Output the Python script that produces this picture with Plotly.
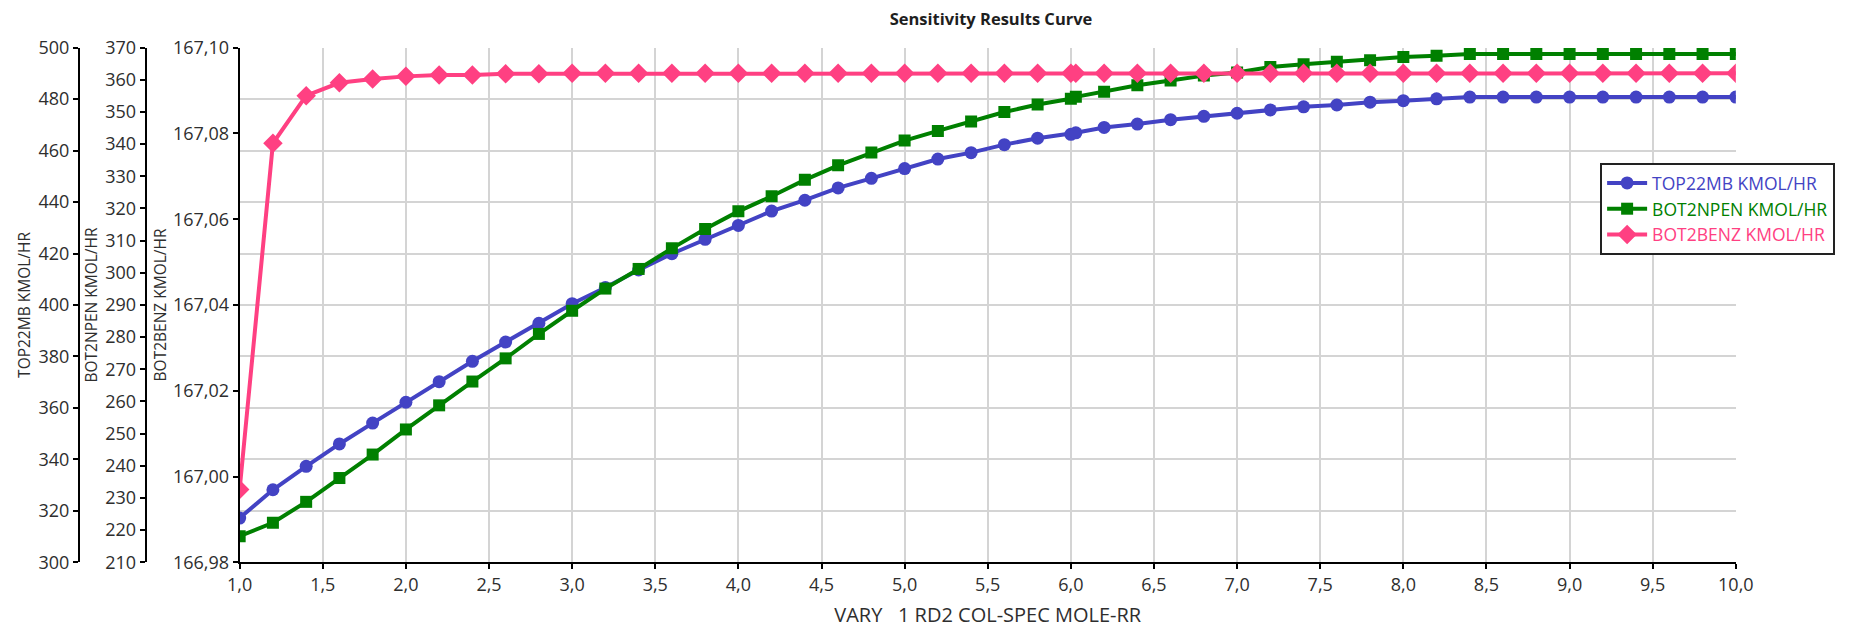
import plotly.graph_objects as go

x_rr = [1.0, 1.2, 1.4, 1.6, 1.8, 2.0, 2.2, 2.4, 2.6, 2.8, 3.0, 3.2, 3.4, 3.6, 3.8,
        4.0, 4.2, 4.4, 4.6, 4.8, 5.0, 5.2, 5.4, 5.6, 5.8, 6.0, 6.03, 6.2, 6.4, 6.6,
        6.8, 7.0, 7.2, 7.4, 7.6, 7.8, 8.0, 8.2, 8.4, 8.6, 8.8, 9.0, 9.2, 9.4, 9.6,
        9.8, 10.0]

top22mb = [317.2, 328.2, 337.3, 346.0, 354.1, 362.2, 370.2, 378.1, 385.6, 392.9,
           400.5, 406.8, 413.6, 419.9, 425.5, 430.9, 436.5, 440.7, 445.5, 449.2,
           453.0, 456.7, 459.2, 462.3, 464.8, 466.3, 466.9, 469.0, 470.3, 472.0,
           473.3, 474.5, 475.8, 477.0, 477.7, 478.8, 479.4, 480.1, 480.8, 480.8,
           480.8, 480.8, 480.8, 480.8, 480.8, 480.8, 480.8]

bot2npen = [218.1, 222.3, 228.8, 236.2, 243.5, 251.3, 258.8, 266.2, 273.4, 281.0,
            288.2, 295.1, 301.2, 307.6, 313.6, 319.1, 323.8, 328.9, 333.4, 337.4,
            341.1, 344.1, 347.0, 350.0, 352.3, 354.1, 354.7, 356.3, 358.3, 359.8,
            361.3, 362.3, 364.0, 364.8, 365.6, 366.1, 367.1, 367.5, 368.0, 368.0,
            368.0, 368.0, 368.0, 368.0, 368.0, 368.0, 368.0]

bot2benz = [166.9970, 167.0777, 167.0888, 167.0918, 167.0927, 167.0933, 167.0936,
            167.0936, 167.0939, 167.0939, 167.0940, 167.0940, 167.0940, 167.0940,
            167.0940, 167.0940, 167.0940, 167.0940, 167.0940, 167.0940, 167.0940,
            167.0940, 167.0940, 167.0940, 167.0940, 167.0940, 167.0940, 167.0940,
            167.0940, 167.0940, 167.0940, 167.0940, 167.0940, 167.0940, 167.0940,
            167.0940, 167.0940, 167.0940, 167.0940, 167.0940, 167.0940, 167.0940,
            167.0940, 167.0940, 167.0940, 167.0940, 167.0940]

names = ["TOP22MB KMOL/HR", "BOT2NPEN KMOL/HR", "BOT2BENZ KMOL/HR"]
colors = ["#4343C4", "#008000", "#FF4082"]
symbols = ["circle", "square", "diamond"]
msizes = [13, 12, 15]

W, H = 1861, 632
FONT = "Open Sans"
TXT = "#2E2E2E"

fig = go.Figure()
series = [top22mb, bot2npen, bot2benz]
yrefs = ["y", "y2", "y3"]
for i in range(3):
    fig.add_trace(go.Scatter(
        x=x_rr, y=series[i], yaxis=yrefs[i], mode="lines+markers",
        name='<span style="color:%s">%s</span>' % (colors[i], names[i]),
        line=dict(color=colors[i], width=4),
        marker=dict(symbol=symbols[i], size=msizes[i], color=colors[i]),
    ))

x0, x1 = 230.5 / W, 1752 / W
y0, y1 = 1 - 571 / H, 1 - 36 / H

axis_common = dict(
    showline=True, linecolor="black", linewidth=2,
    ticks="outside", ticklen=5, tickwidth=1.5, tickcolor="black",
    tickfont=dict(family=FONT, size=18, color=TXT),
    zeroline=False,
)
ytitle_font = dict(family=FONT, size=15.5, color=TXT)

fig.update_layout(
    width=W, height=H,
    margin=dict(l=0, r=0, t=0, b=0),
    paper_bgcolor="white", plot_bgcolor="white",
    separators=", ",
    font=dict(family=FONT, color=TXT),
    title=dict(text="<b>Sensitivity Results Curve</b>", x=991 / W, xanchor="center",
               y=1 - 19 / H, yanchor="middle",
               font=dict(family=FONT, size=16.5, color="#1E1E1E")),
    xaxis=dict(
        domain=[x0, x1], range=[1, 10], dtick=0.5, tick0=1, tickformat=".1f",
        showgrid=True, gridcolor="#D4D4D4", gridwidth=1.5,
        title=dict(text="VARY\u00a0\u00a0\u00a01 RD2 COL-SPEC MOLE-RR",
                   font=dict(family=FONT, size=20, color=TXT), standoff=13),
        anchor="y",
        **axis_common,
    ),
    yaxis=dict(
        domain=[y0, y1], range=[300, 500], dtick=20, tick0=300,
        anchor="free", position=67 / W, side="left",
        showgrid=True, gridcolor="#D4D4D4", gridwidth=1.5,
        title=dict(text="TOP22MB KMOL/HR", font=ytitle_font, standoff=3),
        **axis_common,
    ),
    yaxis2=dict(
        range=[210, 370], dtick=10, tick0=210, overlaying="y",
        anchor="free", position=135 / W, side="left", showgrid=False,
        title=dict(text="BOT2NPEN KMOL/HR", font=ytitle_font, standoff=3),
        **axis_common,
    ),
    yaxis3=dict(
        range=[166.98, 167.10], dtick=0.02, tick0=166.98, tickformat=".2f",
        overlaying="y", anchor="x", side="left", showgrid=False,
        title=dict(text="BOT2BENZ KMOL/HR", font=ytitle_font, standoff=3),
        **axis_common,
    ),
    legend=dict(
        x=1614 / W, y=1 - 156 / H, xanchor="left", yanchor="top",
        bgcolor="white", bordercolor="#222222", borderwidth=2,
        font=dict(family=FONT, size=17.5),
        tracegroupgap=0, itemwidth=40,
    ),
    showlegend=True,
)

fig.write_html("out.html")
